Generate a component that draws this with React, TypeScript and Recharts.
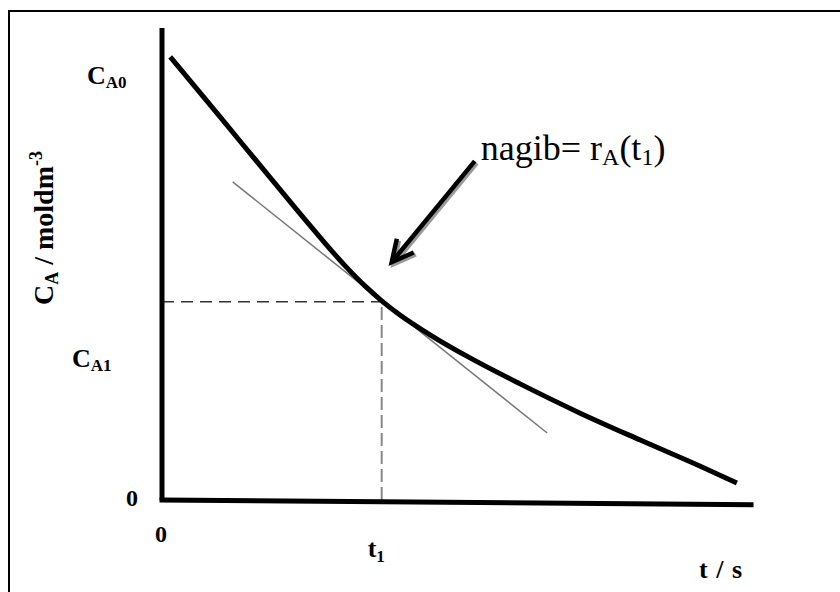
import React from 'react';
import { LineChart, Line, XAxis, YAxis, ReferenceLine } from 'recharts';

// ---- data ----
const curveT = [0.14, 0.99, 1.83, 2.68, 3.11, 3.45, 3.73, 4.04, 4.55, 5.23, 6.08, 7.1, 8.12, 9.13, 9.76];
const curveC = [9.39, 8.11, 6.84, 5.57, 4.96, 4.53, 4.22, 3.92, 3.5, 3.01, 2.46, 1.84, 1.27, 0.72, 0.36];
const tangentT = [1.2, 6.54];
const tangentC = [6.74, 1.42];
const t1 = 3.73;
const cA1 = 4.2;
const arrowT = [5.31, 3.9];
const arrowC = [7.18, 5.04];
const axisEndT = 10;
const axisEndC = -0.1;

const yTicks = [0, 2.95, 8.95];
const yTickMain = ['0', 'C', 'C'];
const yTickSub = ['', 'A1', 'A0'];
const xTicks = [0, t1];
const xTickMain = ['0', 't'];
const xTickSub = ['', '1'];

const curveData = curveT.map((t, i) => ({ t, c: curveC[i] }));
const tangentData = tangentT.map((t, i) => ({ t, c: tangentC[i] }));

const SERIF = "'Liberation Serif', 'Times New Roman', serif";

// per-label layout (pixels relative to tick anchor)
const yTickDx = [-28, -82, -67];
const yTickSize = [24, 26, 26];
const xTickDx = [-7, -14];
const xTickDy = [34, 49];

const YTick = (props: any) => {
  const { x, y, index } = props;
  const i = index;
  return (
    <text x={x + yTickDx[i]} y={y + 6} fontFamily={SERIF} fontWeight="bold" fontSize={yTickSize[i]} fill="#000">
      {yTickMain[i]}
      {yTickSub[i] ? (
        <tspan fontSize={17} dy={4}>{yTickSub[i]}</tspan>
      ) : null}
    </text>
  );
};

const XTick = (props: any) => {
  const { x, y, index } = props;
  const i = index;
  return (
    <text x={x + xTickDx[i]} y={y + xTickDy[i]} fontFamily={SERIF} fontWeight="bold" fontSize={i === 0 ? 24 : 26} fill="#000">
      {xTickMain[i]}
      {xTickSub[i] ? (
        <tspan fontSize={17} dy={5}>{xTickSub[i]}</tspan>
      ) : null}
    </text>
  );
};

const XLabel = (props: any) => {
  const vb = props.viewBox || {};
  const x = vb.x + vb.width - 8;
  const y = vb.y + 78;
  return (
    <text x={x} y={y} textAnchor="end" fontFamily={SERIF} fontWeight="bold" fontSize={26} letterSpacing={1} fill="#000">
      t / s
    </text>
  );
};

const YLabel = (props: any) => {
  const vb = props.viewBox || {};
  const x = vb.x + vb.width - 109;
  const y = vb.y + 200;
  return (
    <text x={x} y={y} textAnchor="middle" transform={`rotate(-90, ${x}, ${y})`} fontFamily={SERIF} fontWeight="bold" fontSize={28} fill="#000">
      C<tspan fontSize={18} dy={5}>A</tspan>
      <tspan dy={-5}> / moldm</tspan>
      <tspan fontSize={18} dy={-11}>-3</tspan>
    </text>
  );
};

const ArrowShape = (props: any) => {
  const { x1, y1, x2, y2 } = props;
  const dx = x1 - x2;
  const dy = y1 - y2;
  const len = Math.sqrt(dx * dx + dy * dy) || 1;
  const ux = dx / len;
  const uy = dy / len;
  const ang = (27 * Math.PI) / 180;
  const armLen = 24;
  const rot = (a: number) => ({
    x: (ux * Math.cos(a) - uy * Math.sin(a)) * armLen,
    y: (ux * Math.sin(a) + uy * Math.cos(a)) * armLen,
  });
  const a1 = rot(ang);
  const a2 = rot(-ang);
  const path = `M${x2 + a1.x},${y2 + a1.y} L${x2},${y2} L${x2 + a2.x},${y2 + a2.y}`;
  return (
    <g>
      <g transform="translate(2,2)" stroke="#9a9a9a" strokeWidth={4.5} fill="none">
        <line x1={x1} y1={y1} x2={x2 + ux * 2} y2={y2 + uy * 2} />
        <path d={path} strokeLinejoin="miter" />
      </g>
      <g stroke="#000" strokeWidth={4.5} fill="none">
        <line x1={x1} y1={y1} x2={x2 + ux * 2} y2={y2 + uy * 2} />
        <path d={path} strokeLinejoin="miter" />
      </g>
      <text x={x1 + 6} y={y1 - 1} fontFamily={SERIF} fontSize={36} fill="#000">
        nagib= r<tspan fontSize={24} dy={5}>A</tspan>
        <tspan dy={-5}>(t</tspan>
        <tspan fontSize={24} dy={5}>1</tspan>
        <tspan dy={-5}>)</tspan>
      </text>
    </g>
  );
};

export default function App() {
  return (
    <div style={{ position: 'absolute', left: 0, top: 0, width: 840, height: 592, background: '#fff', overflow: 'hidden' }}>
      <div style={{ position: 'absolute', left: 8, top: 10, width: 2, height: 600, background: '#000' }} />
      <div style={{ position: 'absolute', left: 8, top: 10, width: 840, height: 2, background: '#000' }} />
      <div style={{ position: 'absolute', left: 0, top: 0 }}>
        <LineChart width={840} height={592} margin={{ top: 28, right: 89, bottom: 91, left: 161 }}>
          <XAxis
            type="number"
            dataKey="t"
            domain={[0, 10]}
            ticks={xTicks}
            tick={<XTick />}
            axisLine={false}
            tickLine={false}
            height={1}
            allowDataOverflow
            label={<XLabel />}
          />
          <YAxis
            type="number"
            dataKey="c"
            domain={[0, 10]}
            ticks={yTicks}
            tick={<YTick />}
            axisLine={{ stroke: '#000', strokeWidth: 5 }}
            tickLine={false}
            width={1}
            allowDataOverflow
            label={<YLabel />}
          />
          <ReferenceLine
            segment={[{ x: 0, y: cA1 }, { x: t1, y: cA1 }]}
            stroke="#333"
            strokeWidth={1.5}
            strokeDasharray="12 7"
            ifOverflow="visible"
          />
          <ReferenceLine
            segment={[{ x: t1, y: 0 }, { x: t1, y: cA1 }]}
            stroke="#888"
            strokeWidth={2}
            strokeDasharray="13 5"
            ifOverflow="visible"
          />
          <Line
            data={tangentData}
            dataKey="c"
            type="linear"
            stroke="#777"
            strokeWidth={1.5}
            dot={false}
            activeDot={false}
            isAnimationActive={false}
          />
          <Line
            data={curveData}
            dataKey="c"
            type="monotone"
            stroke="#000"
            strokeWidth={5}
            dot={false}
            activeDot={false}
            isAnimationActive={false}
          />
          <ReferenceLine
            segment={[{ x: 0, y: 0 }, { x: axisEndT, y: axisEndC }]}
            stroke="#000"
            strokeWidth={5}
            strokeLinecap="square"
            ifOverflow="visible"
          />
          <ReferenceLine
            segment={[{ x: arrowT[0], y: arrowC[0] }, { x: arrowT[1], y: arrowC[1] }]}
            ifOverflow="visible"
            shape={ArrowShape}
          />
        </LineChart>
      </div>
    </div>
  );
}
